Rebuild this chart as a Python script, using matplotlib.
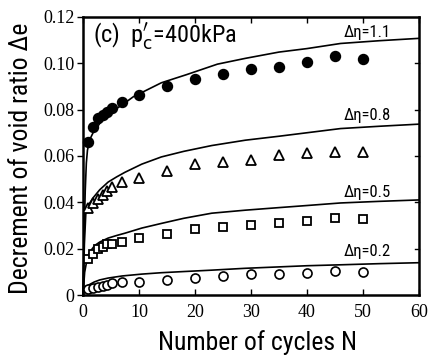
import matplotlib
matplotlib.use('Agg')
import matplotlib.pyplot as plt
from matplotlib.ticker import FixedLocator, FixedFormatter

# measured points (N, decrement of void ratio)
n_pts = [0.9, 1.8, 2.7, 3.5, 4.3, 5.2, 7, 10, 15, 20, 25, 30, 35, 40, 45, 50]
de_11 = [0.066, 0.0725, 0.0763, 0.0776, 0.0789, 0.0806, 0.0832, 0.0862, 0.0901, 0.0931,
         0.0952, 0.0974, 0.0982, 0.1004, 0.1030, 0.1017]
de_08 = [0.0376, 0.0398, 0.0415, 0.0432, 0.0449, 0.0467, 0.0488, 0.0505, 0.0535, 0.0566,
         0.0574, 0.0583, 0.0604, 0.0613, 0.0617, 0.0617]
de_05 = [0.0157, 0.0178, 0.0200, 0.0209, 0.0221, 0.0221, 0.0230, 0.0247, 0.0265, 0.0286,
         0.0295, 0.0303, 0.0312, 0.0320, 0.0333, 0.0329]
de_02 = [0.0028, 0.0032, 0.0037, 0.0041, 0.0045, 0.0054, 0.0058, 0.0058, 0.0067, 0.0075,
         0.0084, 0.0092, 0.0092, 0.0097, 0.0105, 0.0101]

# predicted curves
n_c11 = [0, 0.2, 0.4, 0.6, 0.8, 1.2, 1.8, 3, 4.8, 7, 9, 11.5, 14, 18.5, 24, 29, 35, 40, 46, 53, 60]
c_11 = [0, 0.025, 0.045, 0.057, 0.0625, 0.067, 0.070, 0.074, 0.0785, 0.082, 0.0855, 0.0885,
        0.0915, 0.095, 0.0995, 0.102, 0.1047, 0.1062, 0.1084, 0.1096, 0.1106]
n_c08 = [0, 0.25, 0.5, 1, 1.8, 3, 4.5, 6, 7.5, 10.5, 14, 18, 23, 29, 35, 40, 46, 53, 60]
c_08 = [0, 0.022, 0.035, 0.039, 0.042, 0.0455, 0.0488, 0.051, 0.053, 0.0565, 0.0596, 0.062,
        0.0645, 0.0668, 0.0685, 0.070, 0.0718, 0.0728, 0.0737]
n_c05 = [0, 0.3, 0.8, 1.3, 2.1, 3, 4.5, 6, 7.5, 10.5, 14, 18, 23, 29, 35, 40, 46, 53, 60]
c_05 = [0, 0.010, 0.0165, 0.019, 0.0215, 0.023, 0.0247, 0.0258, 0.0268, 0.029, 0.031, 0.0332,
        0.0354, 0.0367, 0.0378, 0.0387, 0.0398, 0.0405, 0.0411]
n_c02 = [0, 0.5, 1, 2, 3, 4.5, 7, 10.5, 14, 18, 23, 29, 35, 40, 46, 53, 60]
c_02 = [0, 0.003, 0.0045, 0.0058, 0.0067, 0.0075, 0.0084, 0.0092, 0.0098, 0.0103, 0.0109,
        0.0117, 0.0123, 0.0128, 0.0132, 0.0137, 0.0141]

curve_labels = ['Δη=1.1', 'Δη=0.8', 'Δη=0.5', 'Δη=0.2']
label_y = [0.1110, 0.0755, 0.0424, 0.0170]

x_ticks = [0, 10, 20, 30, 40, 50, 60]
y_ticks = [0, 0.02, 0.04, 0.06, 0.08, 0.10, 0.12]
y_ticklabels = ['0', '0.02', '0.04', '0.06', '0.08', '0.10', '0.12']

narrow = ['Roboto Condensed', 'DejaVu Sans']
serif = ['Liberation Serif', 'DejaVu Serif']

fig = plt.figure(figsize=(4.4, 3.58), dpi=100)
ax = fig.add_axes([0.1886, 0.1746, 0.7636, 0.7793])

for nc, c in [(n_c11, c_11), (n_c08, c_08), (n_c05, c_05), (n_c02, c_02)]:
    ax.plot(nc, c, color='black', lw=1.2, clip_on=False, zorder=2)

ax.plot(n_pts, de_11, 'o', color='black', ms=7.2, zorder=3, clip_on=False)
ax.plot(n_pts, de_08, '^', mfc='white', mec='black', mew=1.3, ms=7.5, zorder=3)
ax.plot(n_pts, de_05, 's', mfc='white', mec='black', mew=1.3, ms=6, zorder=3)
ax.plot(n_pts, de_02, 'o', mfc='white', mec='black', mew=1.2, ms=6.5, zorder=3)

for lab, yy in zip(curve_labels, label_y):
    ax.text(46.6, yy, lab, fontsize=12, family=narrow, va='baseline', ha='left')

ax.text(1.7, 0.1085, r"(c)  p$^{\prime}_{\rm c}$=400kPa", fontsize=17.5, family=narrow,
        va='baseline')

ax.set_xlim(0, 60)
ax.set_ylim(0, 0.12)
ax.xaxis.set_major_locator(FixedLocator(x_ticks))
ax.yaxis.set_major_locator(FixedLocator(y_ticks))
ax.yaxis.set_major_formatter(FixedFormatter(y_ticklabels))
for lb in ax.get_xticklabels() + ax.get_yticklabels():
    lb.set_family(serif)
    lb.set_fontsize(13)

ax.tick_params(axis='x', direction='in', top=True, length=4, width=1, pad=6)
ax.tick_params(axis='y', direction='out', right=False, length=4, width=1, pad=2)
for yt in y_ticks[1:-1]:
    ax.plot([59.3, 60], [yt, yt], color='black', lw=1, clip_on=False)

for sp in ax.spines.values():
    sp.set_linewidth(1.8)

ax.set_xlabel('Number of cycles N', fontsize=18.5, family=narrow)
ax.set_ylabel('Decrement of void ratio Δe', fontsize=18.5, family=narrow)
ax.xaxis.set_label_coords(0.52, -0.125)
ax.yaxis.set_label_coords(-0.15, 0.49)

fig.savefig('out.png', dpi=100)
